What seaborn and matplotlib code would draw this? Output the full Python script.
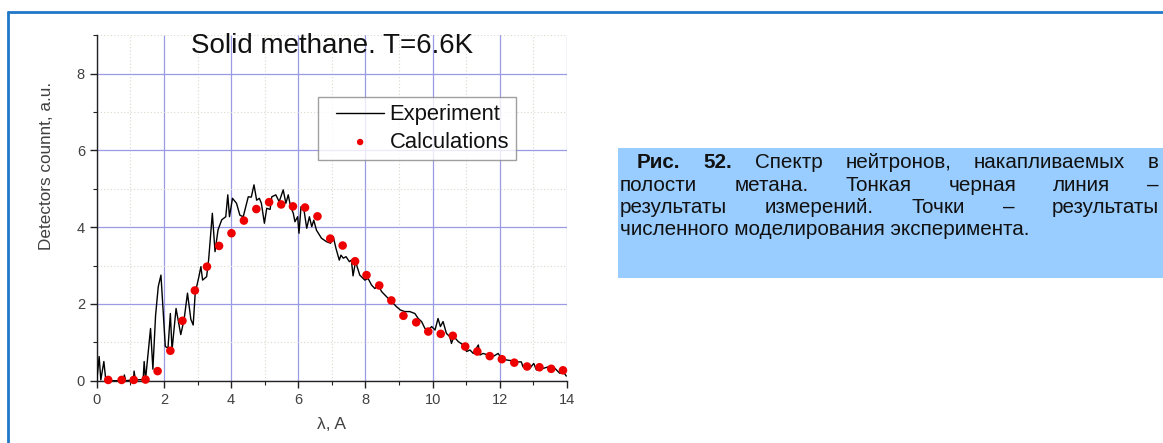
import numpy as np
import pandas as pd
import matplotlib
matplotlib.use("Agg")
import matplotlib.pyplot as plt
import seaborn as sns
from matplotlib.patches import Rectangle
from matplotlib.lines import Line2D
from matplotlib.collections import PathCollection
from matplotlib.legend_handler import HandlerLine2D, HandlerPathCollection
from matplotlib.ticker import MultipleLocator

# ---------------- data ----------------
exp_x = [0.00, 0.07, 0.12, 0.21, 0.27, 0.50, 0.79, 0.82, 0.86, 1.09, 1.11, 1.15,
         1.38, 1.41, 1.45, 1.60, 1.67, 1.75, 1.83, 1.91, 2.04, 2.12, 2.19, 2.24,
         2.36, 2.50, 2.60, 2.70, 2.80, 2.87, 2.93, 3.04, 3.10, 3.15, 3.27, 3.33,
         3.44, 3.52, 3.61, 3.72, 3.84, 3.90, 3.95, 4.04, 4.16, 4.26, 4.36, 4.51,
         4.60, 4.68, 4.76, 4.84, 4.90, 4.99, 5.06, 5.16, 5.21, 5.33, 5.43, 5.55,
         5.63, 5.70, 5.77, 5.85, 5.90, 5.98, 6.02, 6.08, 6.17, 6.25, 6.33, 6.40,
         6.46, 6.54, 6.69, 6.84, 6.96, 7.04, 7.12, 7.22, 7.27, 7.34, 7.42, 7.52,
         7.58, 7.63, 7.71, 7.75, 7.83, 7.98, 8.08, 8.18, 8.28, 8.38, 8.48, 8.58,
         8.68, 8.81, 8.92, 9.04, 9.17, 9.32, 9.47, 9.57, 9.67, 9.77, 9.87, 9.97,
         10.07, 10.16, 10.23, 10.31, 10.41, 10.51, 10.56, 10.63, 10.76, 10.91, 11.01,
         11.11, 11.21, 11.36, 11.41, 11.50, 11.65, 11.80, 11.95, 12.05, 12.20, 12.35,
         12.50, 12.64, 12.69, 12.79, 12.89, 13.01, 13.09, 13.19, 13.29, 13.44, 13.54,
         13.64, 13.79, 13.89, 13.98]
exp_y = [0.00, 0.63, 0.02, 0.50, 0.00, 0.00, 0.00, 0.15, 0.00, 0.02, 0.25, 0.02,
         0.03, 0.50, 0.02, 1.36, 0.30, 1.70, 2.45, 2.75, 0.89, 0.85, 1.75, 0.80,
         1.88, 1.20, 1.60, 2.28, 1.60, 1.45, 2.28, 2.71, 2.97, 2.62, 2.71, 3.15,
         4.36, 3.36, 3.93, 4.19, 4.27, 4.84, 4.27, 4.75, 4.62, 4.31, 4.27, 4.79,
         4.78, 5.10, 4.70, 4.75, 4.62, 4.10, 4.49, 4.46, 4.79, 4.84, 4.66, 4.97,
         4.62, 4.84, 4.53, 4.36, 4.14, 4.27, 3.84, 4.53, 4.44, 3.97, 4.27, 4.01,
         4.18, 3.92, 3.71, 3.62, 3.58, 3.75, 3.45, 3.14, 3.27, 3.19, 3.23, 3.10,
         3.14, 2.73, 3.14, 2.97, 2.75, 2.62, 2.66, 2.49, 2.40, 2.49, 2.32, 2.23,
         2.14, 2.03, 1.93, 1.84, 1.80, 1.80, 1.75, 1.62, 1.54, 1.36, 1.32, 1.41,
         1.32, 1.62, 1.41, 1.54, 1.23, 1.15, 0.97, 1.15, 1.02, 0.93, 0.76,
         0.80, 0.71, 0.93, 0.67, 0.71, 0.67, 0.63, 0.71, 0.58, 0.54, 0.52,
         0.49, 0.49, 0.36, 0.41, 0.32, 0.45, 0.28, 0.32, 0.32, 0.36, 0.28,
         0.32, 0.19, 0.23, 0.12]

calc_x = [0.34, 0.74, 1.10, 1.45, 1.81, 2.19, 2.55, 2.92, 3.28, 3.64, 4.01, 4.38,
          4.75, 5.13, 5.49, 5.84, 6.20, 6.57, 6.95, 7.32, 7.69, 8.03, 8.41, 8.77,
          9.13, 9.51, 9.87, 10.24, 10.60, 10.97, 11.33, 11.70, 12.06, 12.43, 12.81,
          13.18, 13.53, 13.88]
calc_y = [0.02, 0.02, 0.02, 0.03, 0.25, 0.78, 1.56, 2.35, 2.97, 3.51, 3.84, 4.17,
          4.47, 4.65, 4.59, 4.54, 4.51, 4.28, 3.70, 3.52, 3.11, 2.75, 2.48, 2.09,
          1.69, 1.52, 1.28, 1.22, 1.17, 0.89, 0.76, 0.64, 0.56, 0.47, 0.37,
          0.35, 0.31, 0.27]

title = "Solid methane. T=6.6K"
xlabel = "λ, A"
ylabel = "Detectors counnt, a.u."
legend_labels = ["Experiment", "Calculations"]
caption_lines = [
    ["Рис.", "52.", "Спектр", "нейтронов,", "накапливаемых", "в"],
    ["полости", "метана.", "Тонкая", "черная", "линия", "–"],
    ["результаты", "измерений.", "Точки", "–", "результаты"],
    ["численного моделирования эксперимента."],
]

# ---------------- style ----------------
sns.set_theme(style="white")
plt.rcParams["font.family"] = ["Liberation Sans", "DejaVu Sans"]

W, H = 1163, 443
fig = plt.figure(figsize=(W / 100, H / 100), dpi=100)
fig.patch.set_facecolor("white")

ax_l, ax_r, ax_b, ax_t = 96.8, 567.0, 380.7, 35.1
ax = fig.add_axes([ax_l / W, 1 - ax_b / H, (ax_r - ax_l) / W, (ax_b - ax_t) / H])

df_exp = pd.DataFrame({"x": exp_x, "y": exp_y})
df_calc = pd.DataFrame({"x": calc_x, "y": calc_y})

sns.lineplot(data=df_exp, x="x", y="y", ax=ax, color="black", linewidth=1.0,
             sort=False, estimator=None, label=legend_labels[0], zorder=3)
sns.scatterplot(data=df_calc, x="x", y="y", ax=ax, color="#ee0000", s=38,
                edgecolor="none", label=legend_labels[1], zorder=4, clip_on=False)

ax.set_xlim(0, 14)
ax.set_ylim(0, 9)
ax.xaxis.set_major_locator(MultipleLocator(2))
ax.xaxis.set_minor_locator(MultipleLocator(1))
ax.yaxis.set_major_locator(MultipleLocator(2))
ax.yaxis.set_minor_locator(MultipleLocator(1))
ax.set_yticks([0, 2, 4, 6, 8])

ax.grid(which="major", color="#9a9ae6", linewidth=0.9)
ax.grid(which="minor", color="#d8d8cc", linewidth=0.8, linestyle=(0, (1, 2)))
ax.set_axisbelow(True)

for s in ["top", "right"]:
    ax.spines[s].set_visible(False)
for s in ["left", "bottom"]:
    ax.spines[s].set_color("#222222")
    ax.spines[s].set_linewidth(1.0)

ax.tick_params(which="major", direction="out", length=5, width=1,
               color="#222222", labelsize=10.5, labelcolor="#404040",
               bottom=True, left=True)
ax.tick_params(which="minor", direction="out", length=3, width=0.8,
               color="#222222", bottom=True, left=True)

ax.set_xlabel(xlabel, fontsize=12.5, color="#404040")
ax.set_ylabel(ylabel, fontsize=12.3, color="#404040")
ax.xaxis.set_label_coords(0.5, -0.128)
ax.yaxis.set_label_coords(-0.106, 0.621)
ax.yaxis.label.set_va("center")
ax.xaxis.label.set_va("center")

ax.text(7.0, 8.72, title, ha="center", va="center", fontsize=20, color="#111111")

# legend with extra left padding before the handles
SH = 8.0  # points


class ShiftLine(HandlerLine2D):
    def create_artists(self, legend, orig_handle, xdescent, ydescent, width, height,
                       fontsize, trans):
        return super().create_artists(legend, orig_handle, xdescent - SH, ydescent,
                                      width - SH, height, fontsize, trans)


class ShiftColl(HandlerPathCollection):
    def create_artists(self, legend, orig_handle, xdescent, ydescent, width, height,
                       fontsize, trans):
        return super().create_artists(legend, orig_handle, xdescent - SH, ydescent,
                                      width - SH, height, fontsize, trans)


leg_fs = 15.8
leg = ax.legend(loc="upper left", bbox_to_anchor=(0.470, 0.821), fontsize=leg_fs,
                frameon=True, fancybox=False, edgecolor="#888888",
                handlelength=(34.5 + SH) / leg_fs, handletextpad=0.25, borderpad=0.33,
                labelspacing=0.3, markerscale=0.75, borderaxespad=0,
                handler_map={Line2D: ShiftLine(), PathCollection: ShiftColl()})
leg.get_frame().set_linewidth(1.0)
for t in leg.get_texts():
    t.set_color("#111111")

# ---------------- outer frame ----------------
fig.add_artist(Line2D([8 / W, 1], [1 - 12 / H, 1 - 12 / H], transform=fig.transFigure,
                      color="#1f78c8", linewidth=2))
fig.add_artist(Line2D([8 / W, 8 / W], [0, 1 - 12 / H], transform=fig.transFigure,
                      color="#1f78c8", linewidth=2))

# ---------------- caption ----------------
box_l, box_r, box_t, box_b = 618, 1163, 148, 278
fig.add_artist(Rectangle((box_l / W, 1 - box_b / H), (box_r - box_l) / W, (box_b - box_t) / H,
                         transform=fig.transFigure, facecolor="#99ccff", edgecolor="none",
                         zorder=0))

fig.canvas.draw()
renderer = fig.canvas.get_renderer()
cap_fs = 14.9
baselines = [168, 191, 213, 235]
starts = [637, 620, 620, 620]
end_x = 1159
for li, words in enumerate(caption_lines):
    y = 1 - baselines[li] / H
    texts = []
    for wi, w in enumerate(words):
        bold = (li == 0 and wi < 2)
        t = fig.text(0, y, w, fontsize=cap_fs, fontweight="bold" if bold else "normal",
                     color="#111111", va="baseline", ha="left")
        texts.append(t)
    widths = [t.get_window_extent(renderer).width for t in texts]
    if len(texts) == 1:
        texts[0].set_x(starts[li] / W)
        continue
    gap = (end_x - starts[li] - sum(widths)) / (len(texts) - 1)
    x = starts[li]
    for t, wdt in zip(texts, widths):
        t.set_x(x / W)
        x += wdt + gap

fig.savefig("out.png", dpi=100)
